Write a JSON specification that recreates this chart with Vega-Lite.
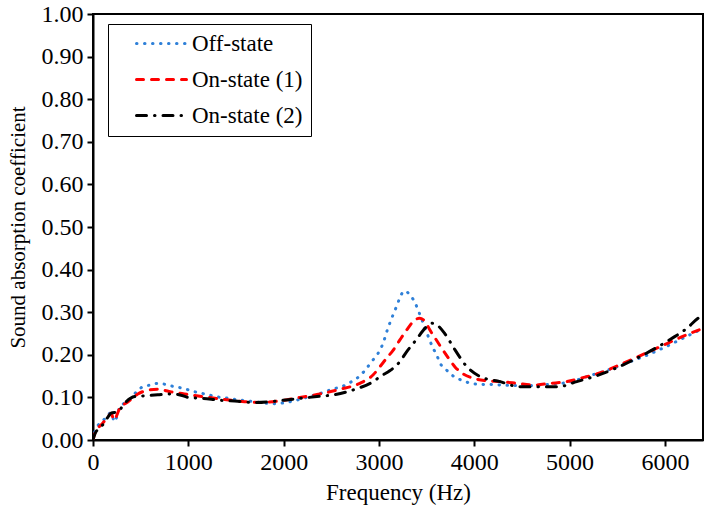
{
  "$schema": "https://vega.github.io/schema/vega-lite/v6.json",
  "width": 610,
  "height": 426,
  "autosize": {"type": "none"},
  "padding": {"left": 93, "top": 14, "right": 11, "bottom": 74},
  "background": "white",
  "config": {
    "view": {"stroke": "black", "strokeWidth": 2},
    "font": "Liberation Serif",
    "axis": {
      "domainColor": "black", "domainWidth": 2,
      "tickColor": "black", "tickWidth": 2, "tickSize": 6,
      "labelFont": "Liberation Serif", "labelColor": "black",
      "titleFont": "Liberation Serif", "titleFontWeight": "normal", "titleColor": "black",
      "grid": false
    },
    "legend": {
      "labelFont": "Liberation Serif", "labelFontSize": 23, "labelColor": "black"
    }
  },
  "data": {
    "values": [
      {"series": "Off-state", "f": 0, "a": 0.000},
      {"series": "Off-state", "f": 20, "a": 0.020},
      {"series": "Off-state", "f": 70, "a": 0.039},
      {"series": "Off-state", "f": 120, "a": 0.049},
      {"series": "Off-state", "f": 190, "a": 0.064},
      {"series": "Off-state", "f": 225, "a": 0.043},
      {"series": "Off-state", "f": 280, "a": 0.076},
      {"series": "Off-state", "f": 370, "a": 0.092},
      {"series": "Off-state", "f": 470, "a": 0.116},
      {"series": "Off-state", "f": 540, "a": 0.127},
      {"series": "Off-state", "f": 610, "a": 0.129},
      {"series": "Off-state", "f": 680, "a": 0.133},
      {"series": "Off-state", "f": 750, "a": 0.131},
      {"series": "Off-state", "f": 820, "a": 0.127},
      {"series": "Off-state", "f": 910, "a": 0.123},
      {"series": "Off-state", "f": 980, "a": 0.119},
      {"series": "Off-state", "f": 1070, "a": 0.113},
      {"series": "Off-state", "f": 1150, "a": 0.109},
      {"series": "Off-state", "f": 1250, "a": 0.104},
      {"series": "Off-state", "f": 1340, "a": 0.100},
      {"series": "Off-state", "f": 1420, "a": 0.098},
      {"series": "Off-state", "f": 1500, "a": 0.095},
      {"series": "Off-state", "f": 1650, "a": 0.091},
      {"series": "Off-state", "f": 1800, "a": 0.087},
      {"series": "Off-state", "f": 1880, "a": 0.085},
      {"series": "Off-state", "f": 1960, "a": 0.086},
      {"series": "Off-state", "f": 2070, "a": 0.090},
      {"series": "Off-state", "f": 2240, "a": 0.100},
      {"series": "Off-state", "f": 2420, "a": 0.112},
      {"series": "Off-state", "f": 2520, "a": 0.120},
      {"series": "Off-state", "f": 2610, "a": 0.125},
      {"series": "Off-state", "f": 2680, "a": 0.133},
      {"series": "Off-state", "f": 2770, "a": 0.145},
      {"series": "Off-state", "f": 2840, "a": 0.160},
      {"series": "Off-state", "f": 2920, "a": 0.183},
      {"series": "Off-state", "f": 3010, "a": 0.211},
      {"series": "Off-state", "f": 3050, "a": 0.231},
      {"series": "Off-state", "f": 3080, "a": 0.253},
      {"series": "Off-state", "f": 3110, "a": 0.272},
      {"series": "Off-state", "f": 3145, "a": 0.292},
      {"series": "Off-state", "f": 3180, "a": 0.311},
      {"series": "Off-state", "f": 3215, "a": 0.331},
      {"series": "Off-state", "f": 3265, "a": 0.350},
      {"series": "Off-state", "f": 3335, "a": 0.338},
      {"series": "Off-state", "f": 3385, "a": 0.319},
      {"series": "Off-state", "f": 3420, "a": 0.300},
      {"series": "Off-state", "f": 3455, "a": 0.280},
      {"series": "Off-state", "f": 3490, "a": 0.258},
      {"series": "Off-state", "f": 3525, "a": 0.239},
      {"series": "Off-state", "f": 3560, "a": 0.219},
      {"series": "Off-state", "f": 3605, "a": 0.200},
      {"series": "Off-state", "f": 3640, "a": 0.181},
      {"series": "Off-state", "f": 3710, "a": 0.164},
      {"series": "Off-state", "f": 3780, "a": 0.150},
      {"series": "Off-state", "f": 3860, "a": 0.141},
      {"series": "Off-state", "f": 3950, "a": 0.134},
      {"series": "Off-state", "f": 4040, "a": 0.131},
      {"series": "Off-state", "f": 4200, "a": 0.130},
      {"series": "Off-state", "f": 4400, "a": 0.128},
      {"series": "Off-state", "f": 4600, "a": 0.128},
      {"series": "Off-state", "f": 4800, "a": 0.131},
      {"series": "Off-state", "f": 5000, "a": 0.136},
      {"series": "Off-state", "f": 5200, "a": 0.150},
      {"series": "Off-state", "f": 5400, "a": 0.164},
      {"series": "Off-state", "f": 5600, "a": 0.181},
      {"series": "Off-state", "f": 5800, "a": 0.198},
      {"series": "Off-state", "f": 6000, "a": 0.218},
      {"series": "Off-state", "f": 6200, "a": 0.240},
      {"series": "Off-state", "f": 6400, "a": 0.262},

      {"series": "On-state (1)", "f": 0, "a": 0.000},
      {"series": "On-state (1)", "f": 20, "a": 0.016},
      {"series": "On-state (1)", "f": 100, "a": 0.039},
      {"series": "On-state (1)", "f": 160, "a": 0.055},
      {"series": "On-state (1)", "f": 190, "a": 0.063},
      {"series": "On-state (1)", "f": 220, "a": 0.047},
      {"series": "On-state (1)", "f": 280, "a": 0.074},
      {"series": "On-state (1)", "f": 370, "a": 0.090},
      {"series": "On-state (1)", "f": 470, "a": 0.108},
      {"series": "On-state (1)", "f": 560, "a": 0.116},
      {"series": "On-state (1)", "f": 680, "a": 0.119},
      {"series": "On-state (1)", "f": 820, "a": 0.113},
      {"series": "On-state (1)", "f": 960, "a": 0.108},
      {"series": "On-state (1)", "f": 1140, "a": 0.102},
      {"series": "On-state (1)", "f": 1350, "a": 0.096},
      {"series": "On-state (1)", "f": 1590, "a": 0.090},
      {"series": "On-state (1)", "f": 1750, "a": 0.088},
      {"series": "On-state (1)", "f": 1960, "a": 0.092},
      {"series": "On-state (1)", "f": 2170, "a": 0.100},
      {"series": "On-state (1)", "f": 2380, "a": 0.108},
      {"series": "On-state (1)", "f": 2590, "a": 0.119},
      {"series": "On-state (1)", "f": 2800, "a": 0.133},
      {"series": "On-state (1)", "f": 2940, "a": 0.153},
      {"series": "On-state (1)", "f": 3010, "a": 0.172},
      {"series": "On-state (1)", "f": 3080, "a": 0.192},
      {"series": "On-state (1)", "f": 3150, "a": 0.211},
      {"series": "On-state (1)", "f": 3220, "a": 0.235},
      {"series": "On-state (1)", "f": 3290, "a": 0.258},
      {"series": "On-state (1)", "f": 3360, "a": 0.278},
      {"series": "On-state (1)", "f": 3425, "a": 0.286},
      {"series": "On-state (1)", "f": 3485, "a": 0.278},
      {"series": "On-state (1)", "f": 3535, "a": 0.258},
      {"series": "On-state (1)", "f": 3590, "a": 0.239},
      {"series": "On-state (1)", "f": 3660, "a": 0.215},
      {"series": "On-state (1)", "f": 3730, "a": 0.192},
      {"series": "On-state (1)", "f": 3800, "a": 0.171},
      {"series": "On-state (1)", "f": 3885, "a": 0.155},
      {"series": "On-state (1)", "f": 3990, "a": 0.145},
      {"series": "On-state (1)", "f": 4130, "a": 0.139},
      {"series": "On-state (1)", "f": 4270, "a": 0.137},
      {"series": "On-state (1)", "f": 4450, "a": 0.133},
      {"series": "On-state (1)", "f": 4620, "a": 0.129},
      {"series": "On-state (1)", "f": 4800, "a": 0.133},
      {"series": "On-state (1)", "f": 4970, "a": 0.137},
      {"series": "On-state (1)", "f": 5150, "a": 0.147},
      {"series": "On-state (1)", "f": 5300, "a": 0.156},
      {"series": "On-state (1)", "f": 5560, "a": 0.180},
      {"series": "On-state (1)", "f": 5910, "a": 0.215},
      {"series": "On-state (1)", "f": 6260, "a": 0.250},
      {"series": "On-state (1)", "f": 6400, "a": 0.262},

      {"series": "On-state (2)", "f": 0, "a": 0.000},
      {"series": "On-state (2)", "f": 20, "a": 0.014},
      {"series": "On-state (2)", "f": 100, "a": 0.035},
      {"series": "On-state (2)", "f": 160, "a": 0.055},
      {"series": "On-state (2)", "f": 190, "a": 0.063},
      {"series": "On-state (2)", "f": 260, "a": 0.066},
      {"series": "On-state (2)", "f": 330, "a": 0.086},
      {"series": "On-state (2)", "f": 440, "a": 0.102},
      {"series": "On-state (2)", "f": 560, "a": 0.104},
      {"series": "On-state (2)", "f": 680, "a": 0.106},
      {"series": "On-state (2)", "f": 790, "a": 0.108},
      {"series": "On-state (2)", "f": 890, "a": 0.107},
      {"series": "On-state (2)", "f": 1000, "a": 0.100},
      {"series": "On-state (2)", "f": 1140, "a": 0.098},
      {"series": "On-state (2)", "f": 1350, "a": 0.093},
      {"series": "On-state (2)", "f": 1520, "a": 0.091},
      {"series": "On-state (2)", "f": 1680, "a": 0.088},
      {"series": "On-state (2)", "f": 1900, "a": 0.091},
      {"series": "On-state (2)", "f": 2100, "a": 0.096},
      {"series": "On-state (2)", "f": 2350, "a": 0.102},
      {"series": "On-state (2)", "f": 2520, "a": 0.106},
      {"series": "On-state (2)", "f": 2750, "a": 0.119},
      {"series": "On-state (2)", "f": 2940, "a": 0.137},
      {"series": "On-state (2)", "f": 3020, "a": 0.150},
      {"series": "On-state (2)", "f": 3117, "a": 0.163},
      {"series": "On-state (2)", "f": 3220, "a": 0.184},
      {"series": "On-state (2)", "f": 3290, "a": 0.207},
      {"series": "On-state (2)", "f": 3380, "a": 0.232},
      {"series": "On-state (2)", "f": 3500, "a": 0.266},
      {"series": "On-state (2)", "f": 3555, "a": 0.274},
      {"series": "On-state (2)", "f": 3620, "a": 0.268},
      {"series": "On-state (2)", "f": 3690, "a": 0.250},
      {"series": "On-state (2)", "f": 3800, "a": 0.211},
      {"series": "On-state (2)", "f": 3915, "a": 0.174},
      {"series": "On-state (2)", "f": 4060, "a": 0.149},
      {"series": "On-state (2)", "f": 4270, "a": 0.137},
      {"series": "On-state (2)", "f": 4480, "a": 0.125},
      {"series": "On-state (2)", "f": 4690, "a": 0.125},
      {"series": "On-state (2)", "f": 4880, "a": 0.125},
      {"series": "On-state (2)", "f": 5075, "a": 0.137},
      {"series": "On-state (2)", "f": 5285, "a": 0.151},
      {"series": "On-state (2)", "f": 5670, "a": 0.188},
      {"series": "On-state (2)", "f": 6055, "a": 0.236},
      {"series": "On-state (2)", "f": 6230, "a": 0.262},
      {"series": "On-state (2)", "f": 6350, "a": 0.286},
      {"series": "On-state (2)", "f": 6400, "a": 0.293}
    ]
  },
  "mark": {"type": "line", "strokeWidth": 3, "strokeCap": "round", "interpolate": "monotone", "clip": true},
  "encoding": {
    "x": {
      "field": "f", "type": "quantitative", "title": "Frequency (Hz)",
      "scale": {"domain": [0, 6400], "nice": false},
      "axis": {"values": [0, 1000, 2000, 3000, 4000, 5000, 6000], "format": "d", "labelFontSize": 24, "labelPadding": 4, "titlePadding": 7, "titleFontSize": 23, "labelFlush": false}
    },
    "y": {
      "field": "a", "type": "quantitative", "title": "Sound absorption coefficient",
      "scale": {"domain": [0, 1], "nice": false},
      "axis": {"values": [0, 0.1, 0.2, 0.3, 0.4, 0.5, 0.6, 0.7, 0.8, 0.9, 1.0], "format": ".2f", "labelFontSize": 24, "labelPadding": 4, "titlePadding": 13, "titleFontSize": 21, "labelFlush": false}
    },
    "color": {
      "field": "series", "type": "nominal",
      "scale": {"domain": ["Off-state", "On-state (1)", "On-state (2)"], "range": ["#2F80D8", "#FF0000", "#000000"]},
      "legend": {
        "title": null, "orient": "none", "legendX": 15, "legendY": 10,
        "symbolType": "M-2.5,0H2.5", "symbolSize": 400, "symbolStrokeWidth": 3, "symbolOffset": 34,
        "labelOffset": 19, "rowPadding": 12, "padding": 8,
        "strokeColor": "black", "fillColor": "white",
        "encode": {"symbols": {"update": {"strokeCap": {"value": "round"}}}}
      }
    },
    "strokeDash": {
      "field": "series", "type": "nominal",
      "scale": {"domain": ["Off-state", "On-state (1)", "On-state (2)"], "range": [[0.5, 7.5], [7, 8], [10, 8, 0.5, 8]]},
      "legend": null
    }
  }
}
